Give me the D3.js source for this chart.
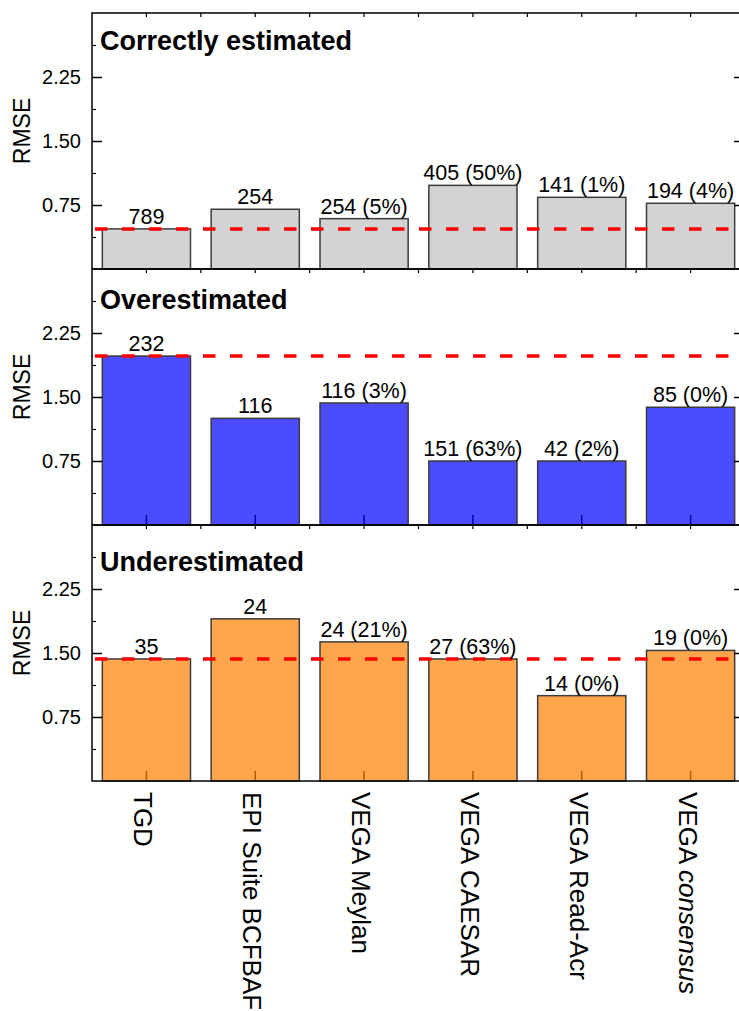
<!DOCTYPE html>
<html>
<head>
<meta charset="utf-8">
<script src="https://cdn.jsdelivr.net/npm/d3@7"></script>
<style>
  html, body { margin: 0; padding: 0; background: #fff; }
  svg { display: block; overflow: hidden; }
  text { font-family: "Liberation Sans", Arial, sans-serif; fill: #000; }
</style>
</head>
<body>
<svg id="chart" width="739" height="1011"></svg>
<script>
// Models compared
const categories = ["TGD", "EPI Suite BCFBAF", "VEGA Meylan", "VEGA CAESAR", "VEGA Read-Acr", "VEGA consensus"];

// Panel titles
const panelTitles = ["Correctly estimated", "Overestimated", "Underestimated"];

// RMSE per model, one array per panel
const rmseCorrect = [0.47, 0.70, 0.59, 0.98, 0.84, 0.77];
const rmseOver    = [1.98, 1.25, 1.43, 0.75, 0.75, 1.38];
const rmseUnder   = [1.43, 1.90, 1.63, 1.43, 1.00, 1.53];

// Bar annotations: number of compounds (share outside applicability domain)
const labelsCorrect = ["789", "254", "254 (5%)", "405 (50%)", "141 (1%)", "194 (4%)"];
const labelsOver    = ["232", "116", "116 (3%)", "151 (63%)", "42 (2%)", "85 (0%)"];
const labelsUnder   = ["35", "24", "24 (21%)", "27 (63%)", "14 (0%)", "19 (0%)"];

// Y axis
const yDomain = [0, 3];
const yTicks = [0.75, 1.50, 2.25];
const yMinorTicks = [0.375, 1.125, 1.875, 2.625];
const yLabel = "RMSE";

const panels = [
  { title: panelTitles[0], values: rmseCorrect, labels: labelsCorrect, fill: "#d3d3d3", opacity: 1.0, titleDy: 37 },
  { title: panelTitles[1], values: rmseOver,    labels: labelsOver,    fill: "#0000ff", opacity: 0.7, titleDy: 40 },
  { title: panelTitles[2], values: rmseUnder,   labels: labelsUnder,   fill: "#ff8000", opacity: 0.7, titleDy: 46 }
];

const svg = d3.select("#chart");
const left = 92, right = 745;
const top0 = 13, panelH = 256, panelStep = 256;

const x = d3.scaleBand()
  .domain(categories)
  .range([left, right])
  .paddingInner(0.19)
  .paddingOuter(0.095);

panels.forEach((p, i) => {
  const top = top0 + i * panelStep;
  const bottom = top + panelH;
  const y = d3.scaleLinear().domain(yDomain).range([bottom, top]);
  const g = svg.append("g");

  // bottom ticks at category centres (sit beneath the translucent bars)
  g.selectAll(".btick").data(categories).enter().append("line")
    .attr("x1", d => x(d) + x.bandwidth() / 2)
    .attr("x2", d => x(d) + x.bandwidth() / 2)
    .attr("y1", bottom).attr("y2", bottom - 10)
    .attr("stroke", "#000").attr("stroke-width", 1.5);

  // bars
  g.selectAll(".bar").data(p.values).enter().append("rect")
    .attr("x", (d, j) => x(categories[j]))
    .attr("width", x.bandwidth())
    .attr("y", d => y(d))
    .attr("height", d => bottom - y(d))
    .attr("fill", p.fill)
    .attr("fill-opacity", p.opacity)
    .attr("stroke", "#3c3c3c")
    .attr("stroke-width", 1.5);

  // reference level (TGD)
  g.append("line")
    .attr("x1", left + 3).attr("x2", right - 16)
    .attr("y1", y(p.values[0])).attr("y2", y(p.values[0]))
    .attr("stroke", "#ff0000").attr("stroke-width", 3.5)
    .attr("stroke-dasharray", "12.5,14.5");

  // value labels
  g.selectAll(".lbl").data(p.labels).enter().append("text")
    .attr("x", (d, j) => x(categories[j]) + x.bandwidth() / 2)
    .attr("y", (d, j) => y(p.values[j]) - 5)
    .attr("text-anchor", "middle")
    .attr("font-size", 21.5)
    .text(d => d);

  // frame
  g.append("rect")
    .attr("x", left).attr("y", top)
    .attr("width", right - left).attr("height", panelH)
    .attr("fill", "none").attr("stroke", "#000").attr("stroke-width", 1.5);

  // left axis
  const yAxisL = d3.axisRight(y).tickValues(yTicks).tickSize(10).tickFormat(d3.format(".2f"));
  const gl = g.append("g").attr("transform", `translate(${left},0)`).call(yAxisL);
  gl.select(".domain").remove();
  gl.selectAll(".tick line").attr("stroke-width", 1.5);
  gl.selectAll(".tick text")
    .attr("x", -11).attr("text-anchor", "end")
    .attr("font-size", 20).attr("font-family", null);
  const yMinorL = d3.axisRight(y).tickValues(yMinorTicks).tickSize(4).tickFormat("");
  const gml = g.append("g").attr("transform", `translate(${left},0)`).call(yMinorL);
  gml.select(".domain").remove();
  gml.selectAll(".tick line").attr("stroke-width", 1.2);

  // right axis
  const yAxisR = d3.axisLeft(y).tickValues(yTicks).tickSize(11).tickFormat("");
  const gr = g.append("g").attr("transform", `translate(${right},0)`).call(yAxisR);
  gr.select(".domain").remove();
  gr.selectAll(".tick line").attr("stroke-width", 1.5);

  // top axis ticks at centres and band boundaries
  g.selectAll(".ttick").data(categories).enter().append("line")
    .attr("x1", d => x(d) + x.bandwidth() / 2)
    .attr("x2", d => x(d) + x.bandwidth() / 2)
    .attr("y1", top).attr("y2", top + 4)
    .attr("stroke", "#000").attr("stroke-width", 1.2);
  g.selectAll(".tbtick").data(categories.slice(1)).enter().append("line")
    .attr("x1", d => x(d) - x.step() * x.paddingInner() / 2)
    .attr("x2", d => x(d) - x.step() * x.paddingInner() / 2)
    .attr("y1", top).attr("y2", top + 4)
    .attr("stroke", "#000").attr("stroke-width", 1.2);

  // panel title
  g.append("text")
    .attr("x", left + 8).attr("y", top + p.titleDy)
    .attr("font-size", 27).attr("font-weight", "bold")
    .text(p.title);

  // y label
  g.append("text")
    .attr("transform", `translate(30,${(top + bottom) / 2 - 10}) rotate(-90)`)
    .attr("text-anchor", "middle")
    .attr("font-size", 23)
    .text(yLabel);
});

// category labels, rotated to read top-down
const bottomAll = top0 + 2 * panelStep + panelH;
svg.selectAll(".cat").data(categories).enter().append("text")
  .attr("transform", d => `translate(${x(d) + x.bandwidth() / 2 - 3},${bottomAll + 11}) rotate(90)`)
  .attr("text-anchor", "start")
  .attr("dominant-baseline", "central")
  .attr("font-size", 26)
  .each(function (d) {
    const t = d3.select(this);
    const m = d.match(/^(.*\s)(consensus)$/);
    if (m) {
      t.append("tspan").text(m[1]);
      t.append("tspan").attr("font-style", "italic").text(m[2]);
    } else {
      t.text(d);
    }
  });
</script>
</body>
</html>
